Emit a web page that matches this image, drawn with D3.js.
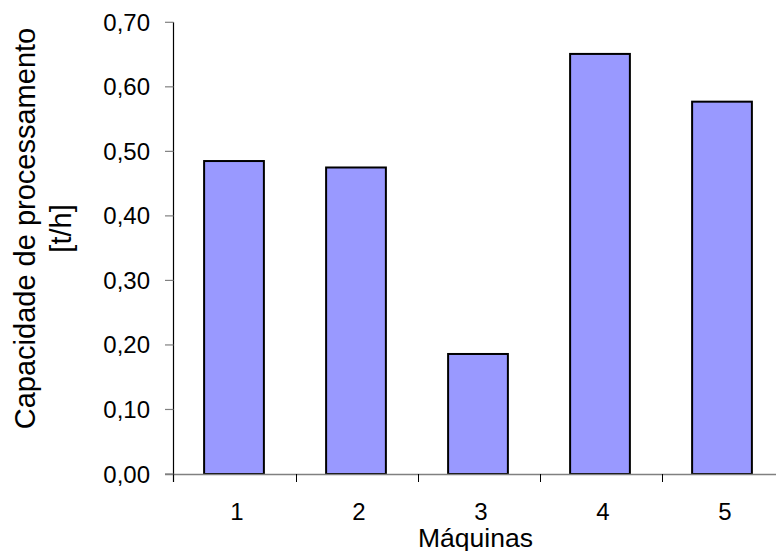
<!DOCTYPE html>
<html>
<head>
<meta charset="utf-8">
<script src="https://cdn.jsdelivr.net/npm/d3@7"></script>
<style>
  html, body { margin: 0; padding: 0; background: #fff; }
  svg { display: block; font-family: "Liberation Sans", Arial, sans-serif; }
</style>
</head>
<body>
<svg id="chart" width="776" height="551"></svg>
<script>
const categories = ["1", "2", "3", "4", "5"];
const values = [0.485, 0.475, 0.186, 0.651, 0.577];
const yTicks = [0, 0.1, 0.2, 0.3, 0.4, 0.5, 0.6, 0.7];
const yTitleLines = ["Capacidade de processamento", "[t/h]"];
const xTitle = "Máquinas";

(function () {
const svg = d3.select("#chart");
const plotLeft = 173.5, plotBottom = 474, plotTop = 22.3, step = 122;

const x = d3.scaleBand().domain(categories)
  .range([plotLeft, plotLeft + step * categories.length]).padding(0);
const y = d3.scaleLinear().domain([0, 0.7]).range([plotBottom, plotTop]);
const fmt = v => d3.format(".2f")(v).replace(".", ",");

// bars
const barW = x.bandwidth() * 0.49;
svg.append("g").selectAll("rect").data(values).join("rect")
  .attr("x", (d, i) => x(categories[i]) + (x.bandwidth() - barW) / 2 - 0.5)
  .attr("y", d => y(d))
  .attr("width", barW)
  .attr("height", d => plotBottom - y(d))
  .attr("fill", "#9999FF")
  .attr("stroke", "#000")
  .attr("stroke-width", 2);

// x axis baseline (gray) extending to edge
svg.append("line")
  .attr("x1", 165).attr("x2", 776)
  .attr("y1", plotBottom + 0.5).attr("y2", plotBottom + 0.5)
  .attr("stroke", "#808080").attr("stroke-width", 1.5);

// x category boundary ticks
const bounds = categories.map(c => x(c)).concat([x(categories[categories.length - 1]) + x.step()]);
svg.append("g").selectAll("line").data(bounds.slice(1)).join("line")
  .attr("x1", d => Math.round(d) + 0.5).attr("x2", d => Math.round(d) + 0.5)
  .attr("y1", plotBottom).attr("y2", plotBottom + 8)
  .attr("stroke", "#000").attr("stroke-width", 1);

// x labels
svg.append("g").selectAll("text").data(categories).join("text")
  .attr("x", d => x(d) + x.bandwidth() / 2 + 2.5)
  .attr("y", 520)
  .attr("text-anchor", "middle")
  .attr("font-size", 24)
  .attr("fill", "#000")
  .text(d => d);

// y axis line
svg.append("line")
  .attr("x1", plotLeft).attr("x2", plotLeft)
  .attr("y1", plotTop).attr("y2", plotBottom + 8)
  .attr("stroke", "#000").attr("stroke-width", 1.2);

// y ticks
svg.append("g").selectAll("line").data(yTicks).join("line")
  .attr("x1", 165).attr("x2", plotLeft)
  .attr("y1", d => y(d)).attr("y2", d => y(d))
  .attr("stroke", "#808080").attr("stroke-width", 1.2);

svg.append("g").selectAll("text").data(yTicks).join("text")
  .attr("x", 150)
  .attr("y", d => y(d) + 8.5)
  .attr("text-anchor", "end")
  .attr("font-size", 24)
  .attr("fill", "#000")
  .text(fmt);

// y title
const yt = svg.append("text")
  .attr("transform", "translate(35,228.5) rotate(-90)")
  .attr("text-anchor", "middle")
  .attr("font-size", 29)
  .attr("fill", "#000");
yTitleLines.forEach((t, i) => {
  yt.append("tspan").attr("x", 0).attr("y", i * 36).text(t);
});

// x title
svg.append("text")
  .attr("x", 475.5).attr("y", 546.5)
  .attr("text-anchor", "middle")
  .attr("font-size", 26.5)
  .attr("fill", "#000")
  .text(xTitle);
})();
</script>
</body>
</html>
